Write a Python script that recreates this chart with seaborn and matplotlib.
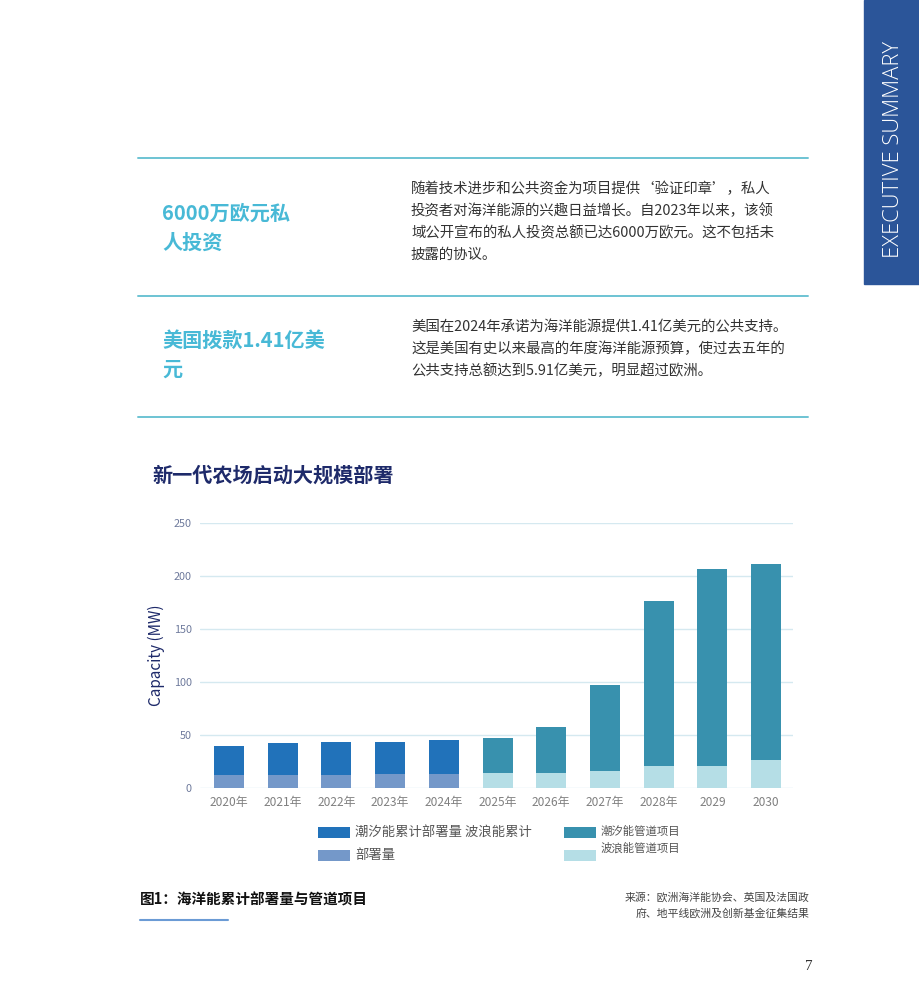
import seaborn as sns
import numpy as np
import pandas as pd
import matplotlib.pyplot as plt
from matplotlib.patches import Rectangle

# Chart data
years = ["2020年", "2021年", "2022年", "2023年", "2024年", "2025年",
         "2026年", "2027年", "2028年", "2029", "2030"]
totals = [40, 42.5, 43, 43.7, 45.5, 47.5, 58, 97, 176.5, 206.5, 211.5]
wave = [12, 12.5, 12.5, 13.5, 13.5, 14, 14.5, 16.5, 21, 21, 26]
is_pipeline = [False] * 5 + [True] * 6

legend_labels = ["潮汐能累计部署量 波浪能累计\n部署量", "潮汐能管道项目", "波浪能管道项目"]

c_tidal_cum = "#2172ba"
c_wave_cum = "#7498c9"
c_tidal_pipe = "#3891ae"
c_wave_pipe = "#b5dee6"

sns.set_theme(style="white")
plt.rcParams["font.family"] = ["Noto Sans CJK SC", "DejaVu Sans"]

W, H = 920, 1008
fig = plt.figure(figsize=(9.2, 10.08), dpi=100)


def px(x, y):
    return x / W, 1 - y / H


def ftext(x, y, s, **kw):
    fx, fy = px(x, y)
    fig.text(fx, fy, s, **kw)


# ---- top part of the page ----
for yy in [158, 296, 417]:
    fx0, fy = px(138, yy)
    fx1, _ = px(808, yy)
    fig.add_artist(plt.Line2D([fx0, fx1], [fy, fy], color="#6cc3d3", lw=1.4))

head_col = "#48b9d6"
ftext(162, 213, "6000万欧元私", fontsize=14.5, fontweight="bold", color=head_col, va="center")
ftext(162, 242, "人投资", fontsize=14.5, fontweight="bold", color=head_col, va="center")
ftext(162, 340, "美国拨款1.41亿美", fontsize=14.5, fontweight="bold", color=head_col, va="center")
ftext(162, 369, "元", fontsize=14.5, fontweight="bold", color=head_col, va="center")

para1 = ["随着技术进步和公共资金为项目提供‘验证印章’，私人",
         "投资者对海洋能源的兴趣日益增长。自2023年以来，该领",
         "域公开宣布的私人投资总额已达6000万欧元。这不包括未",
         "披露的协议。"]
para2 = ["美国在2024年承诺为海洋能源提供1.41亿美元的公共支持。",
         "这是美国有史以来最高的年度海洋能源预算，使过去五年的",
         "公共支持总额达到5.91亿美元，明显超过欧洲。"]
for i, line in enumerate(para1):
    ftext(411, 189 + 22 * i, line, fontsize=10.4, color="#333333", va="center")
for i, line in enumerate(para2):
    ftext(411, 327 + 22 * i, line, fontsize=10.4, color="#333333", va="center")

# side band
fx0, fy0 = px(864, 284)
fig.add_artist(Rectangle((fx0, fy0), 1 - fx0, 1 - fy0, transform=fig.transFigure,
                         color="#2b5599", zorder=0))
ftext(894, 149, "EXECUTIVE SUMMARY", fontsize=15.8, color="white", rotation=90,
      ha="center", va="center", family=["Open Sans", "DejaVu Sans"], fontweight="light")

# ---- chart ----
ftext(152, 475, "新一代农场启动大规模部署", fontsize=14.5, fontweight="bold",
      color="#1e2a6a", va="center")

ax = fig.add_axes([200 / W, 1 - 788 / H, 593 / W, 265 / H])

df = pd.DataFrame({"year": years, "total": totals, "wave": wave})
top_colors = [c_tidal_pipe if p else c_tidal_cum for p in is_pipeline]
bot_colors = [c_wave_pipe if p else c_wave_cum for p in is_pipeline]

sns.barplot(data=df, x="year", y="total", hue="year", palette=top_colors,
            width=0.56, saturation=1, legend=False, ax=ax, zorder=3)
sns.barplot(data=df, x="year", y="wave", hue="year", palette=bot_colors,
            width=0.56, saturation=1, legend=False, ax=ax, zorder=3)
for p in ax.patches:
    p.set_edgecolor("none")

ax.set_ylim(0, 250)
ax.set_xlim(-0.54, 10.5)
ax.set_yticks([0, 50, 100, 150, 200, 250])
ax.yaxis.grid(True, color="#d5e9f0", lw=1, zorder=0)
ax.xaxis.grid(False)
for s in ax.spines.values():
    s.set_visible(False)
ax.tick_params(axis="y", labelsize=7.8, labelcolor="#6e7a9c", length=0, pad=6)
ax.tick_params(axis="x", labelsize=8.6, labelcolor="#808080", length=0, pad=6)
ax.set_xlabel("")
ax.set_ylabel("Capacity (MW)", fontsize=11, color="#1e2a6a", labelpad=6)

# legend drawn as page elements
leg = [(318, 832, c_tidal_cum), (318, 855, c_wave_cum),
       (564, 832, c_tidal_pipe), (564, 855, c_wave_pipe)]
for x, y, c in leg:
    fx, fy = px(x, y + 6)
    fig.add_artist(Rectangle((fx, fy), 32 / W, 11 / H, transform=fig.transFigure,
                             color=c, lw=0))
ftext(355, 832, legend_labels[0].split("\n")[0], fontsize=9.6, color="#555555", va="center")
ftext(355, 855, legend_labels[0].split("\n")[1], fontsize=9.6, color="#555555", va="center")
ftext(601, 831, legend_labels[1], fontsize=8.2, color="#555555", va="center")
ftext(601, 848, legend_labels[2], fontsize=8.2, color="#555555", va="center")

# ---- caption ----
ftext(140, 900, "图1：海洋能累计部署量与管道项目", fontsize=10.5, fontweight="bold",
      color="#111111", va="center")
fx0, fy = px(140, 920)
fx1, _ = px(228, 920)
fig.add_artist(plt.Line2D([fx0, fx1], [fy, fy], color="#6b9bd5", lw=1.5))
ftext(810, 897, "来源：欧洲海洋能协会、英国及法国政", fontsize=7.8, color="#444444",
      ha="right", va="center")
ftext(810, 913, "府、地平线欧洲及创新基金征集结果", fontsize=7.8, color="#444444",
      ha="right", va="center")

ftext(809, 967, "7", fontsize=11, color="#333333", ha="center", va="center",
      family=["Liberation Serif", "DejaVu Serif"])

fig.savefig("out.png", dpi=100, facecolor="white")
